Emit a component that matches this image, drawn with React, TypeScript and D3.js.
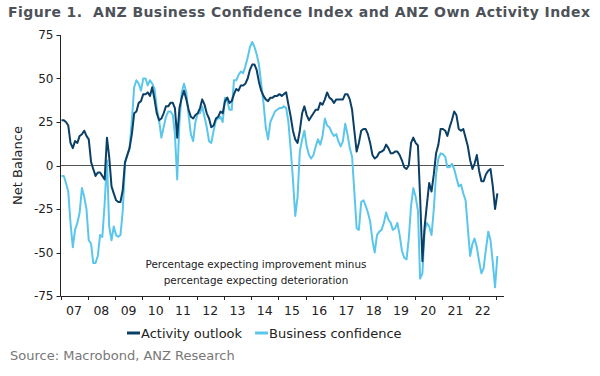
import React from "react";
import * as d3 from "d3";

// Monthly values, Jan 2007 .. Jan 2023
const activity2007 = [26, 26, 25, 23, 13, 10, 14, 13, 17, 18, 20, 17];
const activity2008 = [15, 2, -2, -6, -4, -4, -6, -8, 16, 5, -12, -16];
const activity2009 = [-20, -21, -21, -14, 2, 6, 10, 18, 30, 31, 36, 37];
const activity2010 = [41, 41, 42, 40, 45, 38, 30, 26, 27, 30, 34, 34];
const activity2011 = [36, 36, 33, 16, 33, 39, 43, 38, 32, 28, 27, 29];
const activity2012 = [30, 33, 38, 35, 30, 27, 22, 23, 27, 28, 31, 30];
const activity2013 = [37, 39, 36, 37, 41, 44, 43, 46, 46, 47, 50, 55];
const activity2014 = [58, 58, 55, 48, 43, 40, 38, 37, 39, 39, 40, 40];
const activity2015 = [41, 40, 41, 42, 35, 28, 20, 15, 13, 20, 30, 34];
const activity2016 = [29, 26, 28, 30, 32, 32, 36, 35, 38, 42, 39, 38];
const activity2017 = [36, 38, 38, 38, 38, 41, 41, 38, 32, 20, 8, 13];
const activity2018 = [20, 21, 21, 18, 13, 6, 4, 5, 7.5, 8, 9, 12];
const activity2019 = [10, 7, 7, 8, 8, 6, 3, -1, -2, 0, 13, 16];
const activity2020 = [13, 11.5, -18, -55, -35, -22, -10, -15, -5, 7, 12, 21];
const activity2021 = [21, 20, 17, 22, 26, 31, 29, 21, 20, 21, 16, 11];
const activity2022 = [3, -2, 1, 6, -3, -9, -9, -5, -3, -2, -12, -25];
const activity2023 = [-16];

const confidence2007 = [-6, -6, -10, -15, -33, -47, -37, -33, -27, -13, -18, -25];
const confidence2008 = [-43, -45, -56, -56, -52, -40, -41, -22, 3, -35, -43, -35];
const confidence2009 = [-40, -41, -40, -26, 1, 6, 10, 26, 45, 49, 47, 43];
const confidence2010 = [50, 50, 46, 49, 47, 44, 33, 26, 16, 22, 28, 31];
const confidence2011 = [31, 29, 18, -8, 25, 42, 47, 42, 29, 18, 14, 25];
const confidence2012 = [30, 30, 34, 28, 22, 14, 13, 20, 26, 27, 28, 25];
const confidence2013 = [39, 37, 32, 32, 49, 49, 52, 54, 53, 57, 62, 68];
const confidence2014 = [71, 68, 64, 58, 47, 36, 22, 15, 25, 28, 31, 32];
const confidence2015 = [33, 33, 34, 33, 25, 9, -8, -29, -18, 8, 15, 20];
const confidence2016 = [11, 6, 4, 6, 11, 15, 12, 17, 27, 23, 22, 19];
const confidence2017 = [17, 18, 14, 11, 14, 24, 18, 10, 5, -15, -36, -37];
const confidence2018 = [-21, -20, -23, -27, -32, -43, -50, -40, -38, -37, -33, -27];
const confidence2019 = [-31, -33, -37, -36, -33, -40, -49, -53, -54, -42, -23, -13];
const confidence2020 = [-18, -26, -65, -62, -37, -33, -35, -40, -25, -5, 4, 7];
const confidence2021 = [6.5, 5, -1, -1, 1, -2, -7, -12, -11, -16, -20, -36];
const confidence2022 = [-52, -45, -42, -47, -55, -62, -59, -48, -38, -43, -56, -70];
const confidence2023 = [-52];

const activity = [
  ...activity2007, ...activity2008, ...activity2009, ...activity2010, ...activity2011,
  ...activity2012, ...activity2013, ...activity2014, ...activity2015, ...activity2016,
  ...activity2017, ...activity2018, ...activity2019, ...activity2020, ...activity2021,
  ...activity2022, ...activity2023,
];
const confidence = [
  ...confidence2007, ...confidence2008, ...confidence2009, ...confidence2010, ...confidence2011,
  ...confidence2012, ...confidence2013, ...confidence2014, ...confidence2015, ...confidence2016,
  ...confidence2017, ...confidence2018, ...confidence2019, ...confidence2020, ...confidence2021,
  ...confidence2022, ...confidence2023,
];

const yTicks = [-75, -50, -25, 0, 25, 50, 75];
const yearTicks = d3.range(2007, 2024);
const yearLabels = ["07", "08", "09", "10", "11", "12", "13", "14", "15", "16", "17", "18", "19", "20", "21", "22"];

const DARK = "#0b3f66";
const LIGHT = "#5bc6ec";
const FONT = "DejaVu Sans, Verdana, sans-serif";

export default function App() {
  const left = 60.5;
  const right = 504;
  const top = 35;
  const bottom = 296;

  const x = d3.scaleTime().domain([new Date(2007, 0, 1), new Date(2023, 3, 14)]).range([left, right]);
  const y = d3.scaleLinear().domain([-75, 75]).range([bottom, top]);
  const dateOf = (i: number) => new Date(2007, i, 15);

  const line = d3
    .line<number>()
    .x((_, i) => x(dateOf(i)))
    .y((v) => y(v));

  return (
    <svg width={600} height={376} style={{ position: "absolute", left: 0, top: 0, background: "#fff" }} fontFamily={FONT}>
      <text x={8} y={17} fontSize={14} fontWeight="bold" fill="#4d5259" textLength={582} lengthAdjust="spacing" style={{ whiteSpace: "pre" }}>
        {"Figure 1.\u00a0 ANZ Business Confidence Index and ANZ Own Activity Index"}
      </text>

      {/* zero line */}
      <line x1={left} x2={right} y1={y(0)} y2={y(0)} stroke="#555" strokeWidth={1} />

      {/* series */}
      <path d={line(confidence) || ""} fill="none" stroke={LIGHT} strokeWidth={2} strokeLinejoin="round" />
      <path d={line(activity) || ""} fill="none" stroke={DARK} strokeWidth={2} strokeLinejoin="round" />

      {/* y axis */}
      <line x1={left} x2={left} y1={top} y2={bottom} stroke="#222" strokeWidth={1} />
      {yTicks.map((t) => (
        <g key={t}>
          <line x1={left - 4} x2={left} y1={Math.round(y(t)) + 0.5} y2={Math.round(y(t)) + 0.5} stroke="#222" />
          <text x={left - 7} y={y(t)} dy="0.35em" textAnchor="end" fontSize={12} fill="#222">
            {t}
          </text>
        </g>
      ))}
      <text transform={`translate(22,${(top + bottom) / 2}) rotate(-90)`} textAnchor="middle" fontSize={13} fill="#222">
        Net Balance
      </text>

      {/* x axis */}
      <line x1={left} x2={right} y1={bottom + 0.5} y2={bottom + 0.5} stroke="#222" strokeWidth={1} />
      {yearTicks.map((yr) => (
        <line key={yr} x1={Math.round(x(new Date(yr, 0, 1))) + 0.5} x2={Math.round(x(new Date(yr, 0, 1))) + 0.5} y1={bottom} y2={bottom + 4} stroke="#222" />
      ))}
      {yearLabels.map((lab, i) => (
        <text key={lab} x={x(new Date(2007 + i, 6, 2))} y={315} textAnchor="middle" fontSize={12.5} fill="#222">
          {lab}
        </text>
      ))}

      {/* annotation */}
      <text x={256} y={268} textAnchor="middle" fontSize={10.4} fill="#222">
        Percentage expecting improvement minus
      </text>
      <text x={256} y={284} textAnchor="middle" fontSize={10.4} fill="#222">
        percentage expecting deterioration
      </text>

      {/* legend */}
      <line x1={127} x2={140} y1={333} y2={333} stroke={DARK} strokeWidth={3} />
      <text x={141} y={333} dy="0.35em" fontSize={13} fill="#222">
        Activity outlook
      </text>
      <line x1={255} x2={268} y1={333} y2={333} stroke={LIGHT} strokeWidth={3} />
      <text x={269} y={333} dy="0.35em" fontSize={13} fill="#222">
        Business confidence
      </text>

      <text x={10} y={360} fontSize={13} fill="#777">
        Source: Macrobond, ANZ Research
      </text>
    </svg>
  );
}
